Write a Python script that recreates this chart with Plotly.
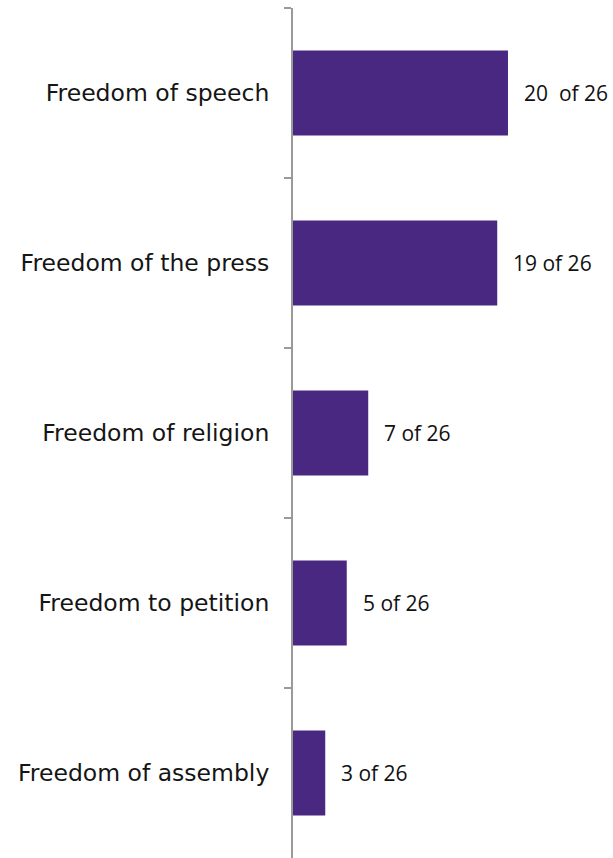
import plotly.graph_objects as go

# Number of the 26 respondents who named each freedom
freedoms = [
    "Freedom of speech",
    "Freedom of the press",
    "Freedom of religion",
    "Freedom to petition",
    "Freedom of assembly",
]
counts = [20, 19, 7, 5, 3]
total = 26
value_labels = ["20  of 26", "19 of 26", "7 of 26", "5 of 26", "3 of 26"]

BAR_COLOR = "#482880"
AXIS_COLOR = "#9a9a9a"

fig = go.Figure(
    go.Bar(
        x=counts,
        y=freedoms,
        orientation="h",
        marker=dict(color=BAR_COLOR, line=dict(width=0)),
        width=0.5,
        hoverinfo="skip",
    )
)

for name, c, lab in zip(freedoms, counts, value_labels):
    fig.add_annotation(
        x=c,
        y=name,
        text=lab,
        showarrow=False,
        xanchor="left",
        xshift=14,
        font=dict(family="Open Sans", size=21, color="#111111"),
    )

fig.update_layout(
    width=613,
    height=858,
    margin=dict(l=293, r=0, t=8, b=0),
    paper_bgcolor="white",
    plot_bgcolor="white",
    showlegend=False,
    xaxis=dict(
        range=[0, 29.77],
        visible=False,
        fixedrange=True,
    ),
    yaxis=dict(
        type="category",
        autorange="reversed",
        showline=True,
        linecolor=AXIS_COLOR,
        linewidth=2,
        ticks="outside",
        tickson="boundaries",
        ticklen=7,
        tickwidth=2,
        tickcolor=AXIS_COLOR,
        ticklabelstandoff=17,
        showgrid=False,
        tickfont=dict(family="DejaVu Sans", size=23.5, color="#151515"),
        fixedrange=True,
    ),
)

fig.write_html("out.html")
